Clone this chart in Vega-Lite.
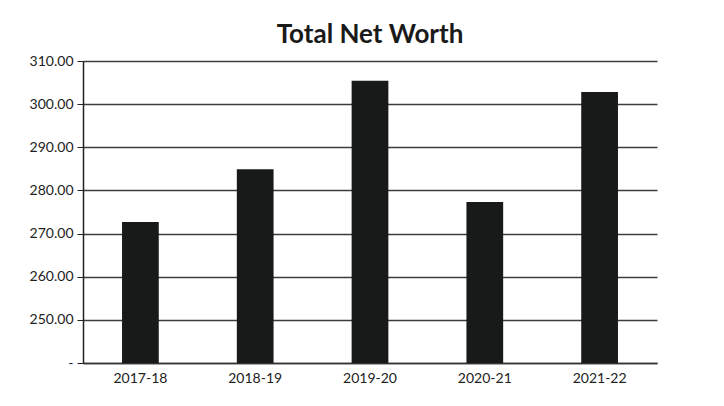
{
  "$schema": "https://vega.github.io/schema/vega-lite/v6.json",
  "autosize": {"type": "none"},
  "padding": {"left": 83, "top": 61, "right": 67, "bottom": 43},
  "width": 574,
  "height": 302,
  "background": "white",
  "title": {
    "text": "Total Net Worth",
    "font": "Lato",
    "fontSize": 26,
    "fontWeight": "bold",
    "color": "#1a1a1a",
    "anchor": "middle",
    "offset": 6
  },
  "data": {
    "values": [
      {"year": "2017-18", "networth": 272.7},
      {"year": "2018-19", "networth": 284.9},
      {"year": "2019-20", "networth": 305.4},
      {"year": "2020-21", "networth": 277.3},
      {"year": "2021-22", "networth": 302.8}
    ]
  },
  "mark": {"type": "bar", "color": "#181a19", "clip": true},
  "encoding": {
    "x": {
      "field": "year",
      "type": "ordinal",
      "title": null,
      "scale": {"paddingInner": 0.68, "paddingOuter": 0.34},
      "axis": {
        "labelAngle": 0,
        "labelFont": "Lato",
        "labelFontSize": 14,
        "labelColor": "#222222",
        "labelPadding": 8,
        "ticks": false,
        "domainColor": "#333333",
        "domainWidth": 1.5
      }
    },
    "y": {
      "field": "networth",
      "type": "quantitative",
      "title": null,
      "scale": {"domain": [240, 310], "zero": false, "nice": false},
      "axis": {
        "values": [240, 250, 260, 270, 280, 290, 300, 310],
        "labelExpr": "datum.value == 240 ? '-' : format(datum.value, '.2f')",
        "labelFont": "Lato",
        "labelFontSize": 14,
        "labelColor": "#222222",
        "labelPadding": 4,
        "tickSize": 6,
        "tickColor": "#222222",
        "domainColor": "#222222",
        "domainWidth": 1.5,
        "grid": true,
        "gridColor": "#3c3c3c",
        "gridWidth": 1.5
      }
    }
  },
  "config": {"view": {"stroke": null}}
}
